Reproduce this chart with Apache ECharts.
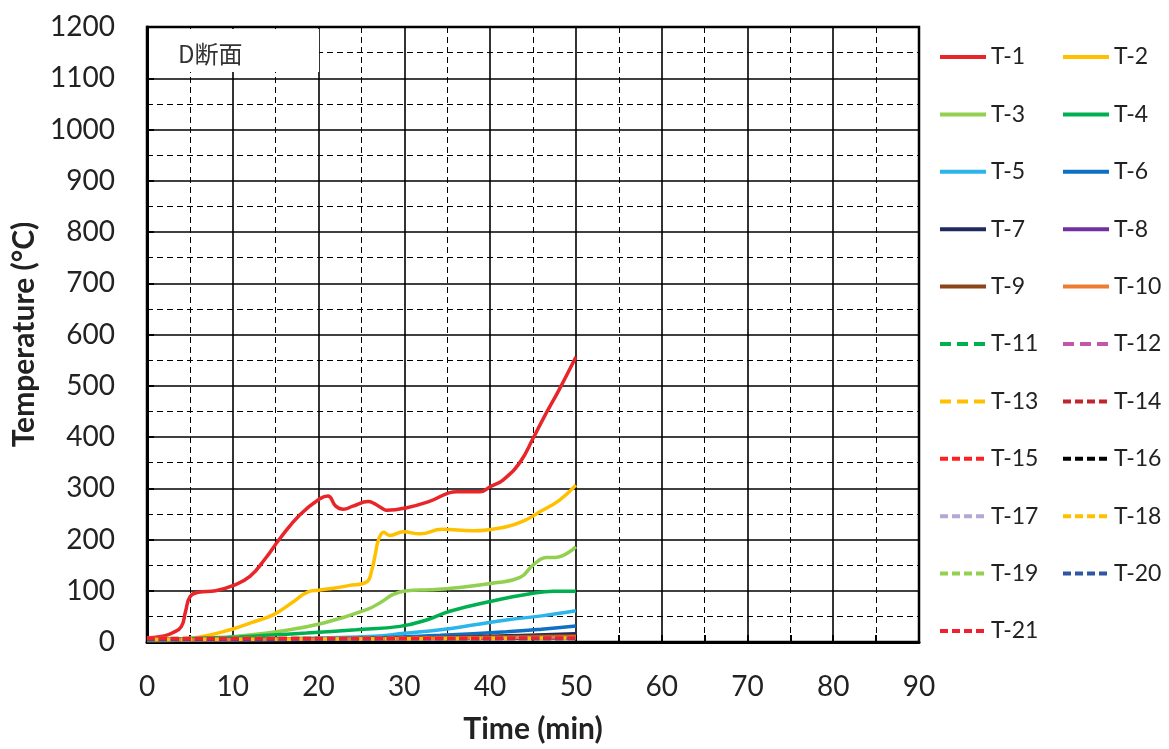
<!DOCTYPE html>
<html>
<head>
<meta charset="utf-8">
<script src="https://cdn.jsdelivr.net/npm/echarts@6/dist/echarts.min.js"></script>
<style>html,body{margin:0;padding:0;background:#fff;}#c{width:1169px;height:749px;}</style>
</head>
<body>
<div id="c"></div>
<script>
// ---- data ----
const xTicks = [0,10,20,30,40,50,60,70,80,90];
const yTicks = [0,100,200,300,400,500,600,700,800,900,1000,1100,1200];
const names = ['T-1','T-2','T-3','T-4','T-5','T-6','T-7','T-8','T-9','T-10','T-11','T-12','T-13','T-14','T-15','T-16','T-17','T-18','T-19','T-20','T-21'];

const t1 = [0,2,3,4,4.5,5,6,8,10,12,13.8,15.5,17.8,20.2,21.1,22,22.9,24,25.8,26.4,27.3,27.9,30.3,33,36.1,38.8,40,41.5,43.5,45,46.2,48.1,50];
const v1 = [8,12,18,30,60,88,97,100,110,128,163,202,248,280,285,265,259,265,274,271,262,257,262,275,293,293,303,316,351,397,436,494,556];
const t2 = [0,3,6.2,9.7,12,14.7,17.1,18.8,20,21.7,23.5,25.6,26.2,26.6,27,27.6,28.3,29.9,31.8,34.4,38,41.9,44,45.8,48.1,50];
const v2 = [5,6,10,24,37,53,79,98,101,105,110,117,140,170,200,214,208,215,211,220,217,225,237,254,277,306];
const t3 = [0,5,8,10.5,15.5,20.6,25.6,27.5,28.7,30.3,33,36.1,40.4,43.5,45,46.6,47.6,50];
const v3 = [3,4,6,11,21,37,63,80,93,100,102,106,115,126,150,165,165,186];
const t4 = [0,10.8,14,18.6,24.4,29.5,32.6,35.3,40,45,47.4,50];
const v4 = [4,10,13,17.5,24,30.5,43,60,79,95,99,99];
const t5 = [0,15,20,26.4,30,34.2,38,41.9,46,50];
const v5 = [4,6,8,11,17,24,33,43,51,61];
const t6 = [0,20,28,34.2,41.9,46,50];
const v6 = [4,6,9,13,20,25,31];
const t7 = [0,25,35,42,50];
const v7 = [4,6,9,12,16];
const tLow = [0,25,50];
const v8  = [4,6,8];
const v9  = [4,7,12];
const v10 = [4,6,10];
const v11 = [5,6,8];
const v12 = [5,6,7];
const v13 = [5,6,8];
const v14 = [5,6,8];
const v15 = [6,7,8];
const v16 = [5,6,7];
const v17 = [5,6,7];
const v18 = [7,7,8];
const v19 = [5,6,7];
const v20 = [5,6,7];
const v21 = [7,7,8];

const colors = ['#E8262A','#FFC000','#92D050','#00B050','#2CB5EA','#0F6FC0','#1F2A5E','#7030A0','#8B4519','#ED7D31',
                '#00B050','#C259A8','#FFC000','#C0272D','#FF2020','#000000','#B4A7D6','#FFC000','#92D050','#2F55A4','#F02030'];
const times = [t1,t2,t3,t4,t5,t6,t7,tLow,tLow,tLow,tLow,tLow,tLow,tLow,tLow,tLow,tLow,tLow,tLow,tLow,tLow];
const vals  = [v1,v2,v3,v4,v5,v6,v7,v8,v9,v10,v11,v12,v13,v14,v15,v16,v17,v18,v19,v20,v21];

const FONT = 'Lato, "Open Sans", sans-serif';

const series = names.map((n,i)=>{
  const dashed = i >= 10;
  const dash = (i >= 10 && i <= 12) ? [11,6] : [8,4];
  return {
    name: n, type: 'line', symbol: 'none', smooth: 0.45,
    data: times[i].map((t,k)=>[t, vals[i][k]]),
    lineStyle: { color: colors[i], width: 3.5, type: dashed ? dash : 'solid' },
    itemStyle: { color: colors[i] },
    z: 3
  };
});

const chart = echarts.init(document.getElementById('c'), null, {renderer:'canvas'});
const legendBase = {
  orient: 'vertical', top: 40, itemWidth: 46, itemHeight: 24, itemGap: 33.4,
  itemStyle: { opacity: 0 },
  lineStyle: { width: 4 },
  textStyle: { fontSize: 23, fontFamily: FONT, color: '#222', lineHeight: 24 },
  selectedMode: false
};
chart.setOption({
  animation: false,
  backgroundColor: '#fff',
  grid: { left: 147, right: 250, top: 27, bottom: 105, show: true, borderColor: '#000', borderWidth: 2.5, containLabel: false },
  legend: [
    Object.assign({}, legendBase, { left: 933, data: names.filter((n,i)=>i%2===0) }),
    Object.assign({}, legendBase, { left: 1056, data: names.filter((n,i)=>i%2===1) })
  ],
  xAxis: {
    type: 'value', min: xTicks[0], max: xTicks[xTicks.length-1], interval: 10,
    name: 'Time (min)', nameLocation: 'middle', nameGap: 72,
    nameTextStyle: { fontSize: 30, fontWeight: 'bold', fontFamily: FONT, color: '#222' },
    axisLine: { show: true, lineStyle: { color: '#000', width: 3 } },
    axisTick: { show: true, inside: true, length: 7, lineStyle: { color: '#000', width: 2 } },
    minorTick: { show: true, splitNumber: 2, length: 7, lineStyle: { color: '#000', width: 2 } },
    axisLabel: { fontSize: 28, fontFamily: FONT, color: '#222', margin: 31, formatter: v => String(v) },
    splitLine: { show: true, lineStyle: { color: '#000', width: 1.6 } },
    minorSplitLine: { show: true, lineStyle: { color: '#000', width: 1, type: [6,4] } }
  },
  yAxis: {
    type: 'value', min: yTicks[0], max: yTicks[yTicks.length-1], interval: 100,
    name: 'Temperature (°C)', nameLocation: 'middle', nameGap: 100,
    nameTextStyle: { fontSize: 30, fontWeight: 'bold', fontFamily: FONT, color: '#222' },
    axisLine: { show: true, lineStyle: { color: '#000', width: 3 } },
    axisTick: { show: true, inside: true, length: 7, lineStyle: { color: '#000', width: 2 } },
    axisLabel: { fontSize: 28, fontFamily: FONT, color: '#222', margin: 32, formatter: v => String(v) },
    splitLine: { show: true, lineStyle: { color: '#000', width: 1.6 } },
    minorTick: { show: false, splitNumber: 2 },
    minorSplitLine: { show: true, lineStyle: { color: '#000', width: 1, type: [6,4] } }
  },
  graphic: [
    { type: 'rect', left: 149, top: 29, shape: { width: 170, height: 43 }, style: { fill: '#fff' }, z: 1 },
    { type: 'text', left: 178, top: 42, style: { text: 'D断面', fontSize: 24, fontFamily: '"Noto Sans CJK JP", sans-serif', fill: '#333' }, z: 2 }
  ],
  series: series
});
</script>
</body>
</html>
